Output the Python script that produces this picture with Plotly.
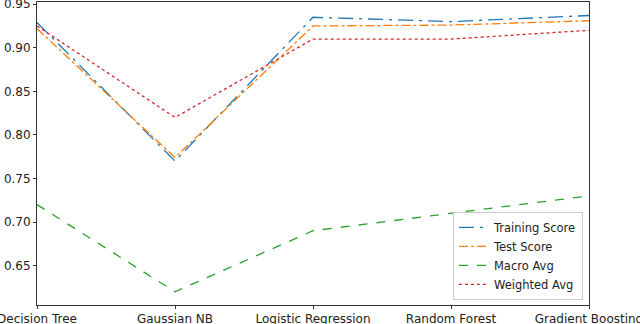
import plotly.graph_objects as go

models = ["Decision Tree", "Gaussian NB", "Logistic Regression", "Random Forest", "Gradient Boosting"]
training_score = [0.929, 0.770, 0.935, 0.930, 0.937]
test_score = [0.922, 0.774, 0.925, 0.926, 0.931]
macro_avg = [0.720, 0.620, 0.690, 0.710, 0.730]
weighted_avg = [0.925, 0.820, 0.910, 0.910, 0.920]
y_ticks = [0.65, 0.70, 0.75, 0.80, 0.85, 0.90, 0.95]

series = [
    ("Training Score", training_score, "#1f77b4", "longdashdot"),
    ("Test Score", test_score, "#ff7f0e", "dashdot"),
    ("Macro Avg", macro_avg, "#2ca02c", "dash"),
    ("Weighted Avg", weighted_avg, "#d62728", "dot"),
]

fig = go.Figure()
for name, vals, color, dash in series:
    fig.add_trace(go.Scatter(x=models, y=vals, name=name, mode="lines",
                             line={"color": color, "dash": dash, "width": 1.3}))

axis_style = {
    "showline": True,
    "linecolor": "#333333",
    "linewidth": 1,
    "mirror": True,
    "showgrid": False,
    "zeroline": False,
    "automargin": False,
    "ticks": "outside",
    "ticklen": 3,
    "tickcolor": "#333333",
    "ticklabeloverflow": "allow",
    "tickfont": {"family": "DejaVu Sans", "size": 12, "color": "#222222"},
}

fig.update_xaxes(**axis_style, range=[0, 4])
fig.update_yaxes(**axis_style, range=[0.6048, 0.9525], tickvals=y_ticks, tickformat=".2f")

fig.update_layout(
    width=640, height=324,
    margin={"l": 37, "r": 51, "t": 2, "b": 19},
    plot_bgcolor="white", paper_bgcolor="white",
    font={"family": "DejaVu Sans", "size": 12, "color": "#222222"},
    legend={"x": 0.989, "y": 0.017, "xanchor": "right", "yanchor": "bottom",
            "bordercolor": "#cccccc", "borderwidth": 1, "bgcolor": "rgba(255,255,255,0.8)",
            "font": {"size": 11.5}, "tracegroupgap": 0, "itemwidth": 30},
)

# the page body has a default 8px margin; drop it so the figure sits at 0,0
fig.write_html("out.html", config={"displayModeBar": False},
               post_script="document.body.style.margin='0';")
